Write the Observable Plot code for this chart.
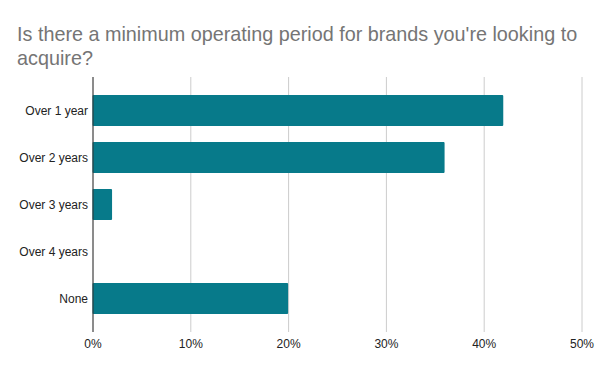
<!DOCTYPE html>
<html><head><meta charset="utf-8">
<script src="https://cdn.jsdelivr.net/npm/d3@7"></script>
<script src="https://cdn.jsdelivr.net/npm/@observablehq/plot@0.6"></script>
<style>
body{margin:0;background:#fff;font-family:"Liberation Sans",Arial,sans-serif;}
#title{height:70px;box-sizing:border-box;padding:22px 0 0 17px;font-size:19.8px;line-height:24px;color:#757575;width:600px;white-space:nowrap;overflow:hidden}
#chart svg{display:block}
</style></head><body>
<div id="title">Is there a minimum operating period for brands you're looking to<br>acquire?</div>
<div id="chart"></div>
<script>
const categories = ["Over 1 year","Over 2 years","Over 3 years","Over 4 years","None"];
const values = [0.42, 0.36, 0.02, 0, 0.20];
const xTicks = [0, 0.1, 0.2, 0.3, 0.4, 0.5];
const data = categories.map((c, i) => ({category: c, value: values[i]}));
const fmt = d => Math.round(d * 100) + "%";
const chart = Plot.plot({
  width: 600, height: 301,
  marginTop: 7, marginBottom: 39, marginLeft: 92.5, marginRight: 18.5,
  style: {fontFamily: "'Liberation Sans', Arial, sans-serif", fontSize: "12px", color: "#222", background: "#fff"},
  x: {domain: [0, 0.5], ticks: xTicks, tickFormat: fmt, label: null},
  y: {domain: categories, paddingInner: 0.35, paddingOuter: 0.37, label: null},
  marks: [
    Plot.gridX(xTicks, {stroke: "#cccccc", strokeOpacity: 1}),
    Plot.barX(data, {x: "value", y: "category", fill: "#077a8a", rx: 1}),
    Plot.ruleX([0], {stroke: "#333"}),
    Plot.axisX({ticks: xTicks, tickFormat: fmt, tickSize: 0, tickPadding: 7, label: null}),
    Plot.axisY({tickSize: 0, tickPadding: 5, label: null})
  ]
});
document.getElementById("chart").appendChild(chart);
</script>
</body></html>
